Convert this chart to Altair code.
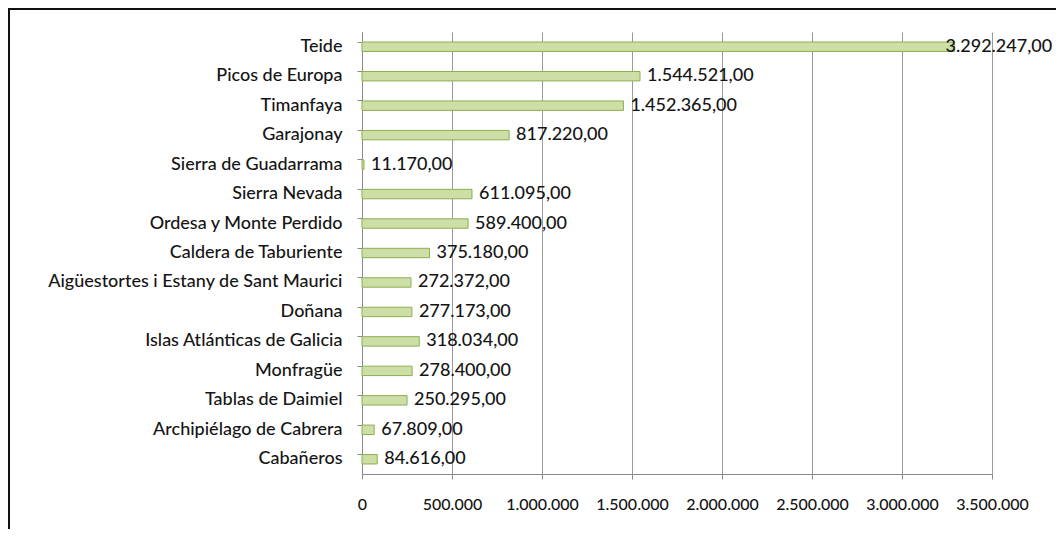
import altair as alt
import pandas as pd

parks = [
    "Teide", "Picos de Europa", "Timanfaya", "Garajonay", "Sierra de Guadarrama",
    "Sierra Nevada", "Ordesa y Monte Perdido", "Caldera de Taburiente",
    "Aigüestortes i Estany de Sant Maurici", "Doñana", "Islas Atlánticas de Galicia",
    "Monfragüe", "Tablas de Daimiel", "Archipiélago de Cabrera", "Cabañeros",
]
values = [
    3292247.00, 1544521.00, 1452365.00, 817220.00, 11170.00,
    611095.00, 589400.00, 375180.00,
    272372.00, 277173.00, 318034.00,
    278400.00, 250295.00, 67809.00, 84616.00,
]
x_ticks = [0, 500000, 1000000, 1500000, 2000000, 2500000, 3000000, 3500000]

df = pd.DataFrame({"parque": parks, "valor": values})

FONT = "Lato"
TXT = "#151515"

y_enc = alt.Y(
    "parque:N", sort=parks, title=None,
    scale=alt.Scale(paddingInner=0.68, paddingOuter=0.34),
    axis=alt.Axis(
        bandPosition=0, tickSize=5, tickColor="#8a8a8a", domainColor="#8a8a8a",
        labelFont=FONT, labelFontSize=18, labelFontWeight=500, labelColor=TXT,
        labelPadding=15, labelLimit=400, grid=False,
    ),
)
x_enc = alt.X(
    "valor:Q", title=None,
    scale=alt.Scale(domain=[0, 3500000], nice=False),
    axis=alt.Axis(
        values=x_ticks, format=",d", tickSize=5, tickColor="#8a8a8a",
        domainColor="#8a8a8a", gridColor="#9a9a9a", grid=True,
        labelFont=FONT, labelFontSize=16, labelFontWeight=500, labelColor=TXT,
        labelPadding=17, labelFlush=False,
    ),
)

base = alt.Chart(df)
bars = base.mark_bar(fill="#cddfa6", stroke="#8fae50", strokeWidth=1).encode(x=x_enc, y=y_enc)

label_enc = dict(
    x=alt.X("valor:Q"), y=alt.Y("parque:N", sort=parks),
    text=alt.Text("valor:Q", format=",.2f"),
)
labels = base.transform_filter("datum.valor < 3000000").mark_text(
    align="left", baseline="middle", dx=7, font=FONT, fontSize=18, fontWeight=500, color=TXT
).encode(**label_enc)
labels_end = base.transform_filter("datum.valor >= 3000000").mark_text(
    align="left", baseline="middle", dx=-9, font=FONT, fontSize=18, fontWeight=500, color=TXT
).encode(**label_enc)

frame_df = pd.DataFrame({"k": [0]})
top_line = alt.Chart(frame_df).mark_rule(color="#111111", strokeWidth=2).encode(
    x=alt.value(-354), x2=alt.value(700), y=alt.value(-23)
)
left_line = alt.Chart(frame_df).mark_rule(color="#111111", strokeWidth=2).encode(
    x=alt.value(-353), y=alt.value(-24), y2=alt.value(500)
)

chart = alt.layer(bars, labels, labels_end, top_line, left_line).properties(
    width=630, height=442,
    padding={"left": 354, "top": 24, "right": 64, "bottom": 55},
    autosize="none",
).configure(
    locale=alt.Locale(number=alt.NumberLocale(
        decimal=",", thousands=".", grouping=[3], currency=["", " €"]
    ))
).configure_view(stroke=None).configure_axis(tickWidth=1, domainWidth=1, gridWidth=1)

chart.save("out.html", embed_options={"renderer": "svg", "actions": False})
